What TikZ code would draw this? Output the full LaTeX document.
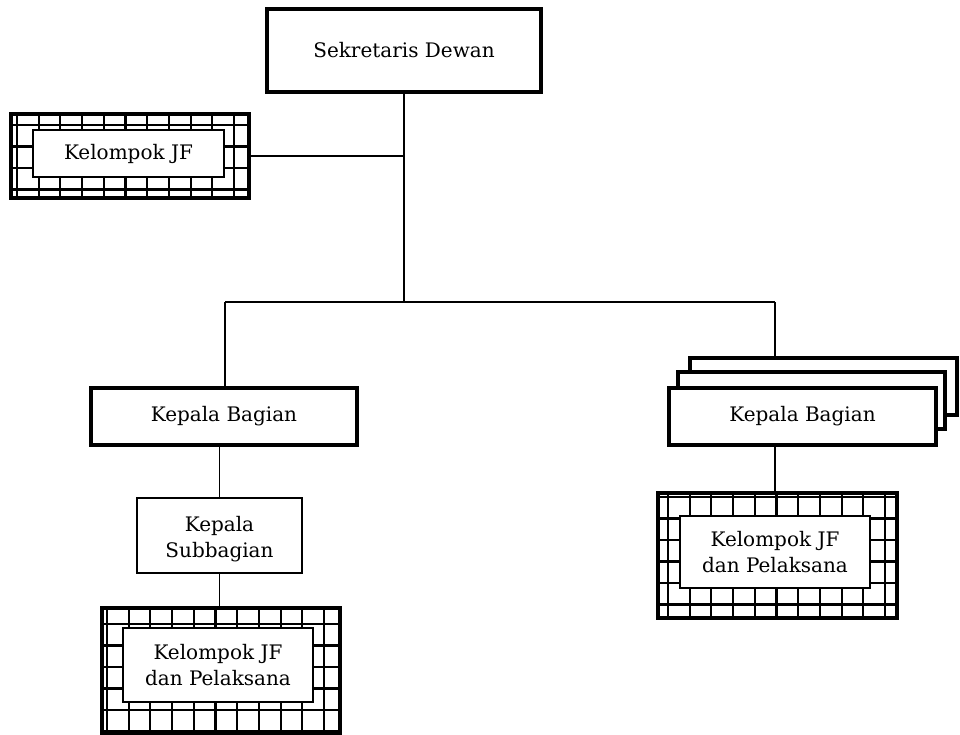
\documentclass[tikz,border=0pt]{standalone}
\usepackage{fontspec}
\setmainfont{DejaVu Serif}
\usetikzlibrary{calc}
\begin{document}
\begin{tikzpicture}[x=0.75pt,y=-0.75pt,
  every node/.style={font=\fontsize{15}{19.5}\selectfont},
  hb/.style={draw, line width=3.2pt, fill=white, inner sep=0pt, align=center},
  tb/.style={draw, line width=1.2pt, fill=white, inner sep=0pt, align=center},
  inbox/.style={draw, line width=0.8pt, fill=white, inner sep=0pt, align=center},
  conn/.style={line width=1.2pt},
  hatch/.style 2 args={path picture={
    \path (path picture bounding box.north west) coordinate (hnw);
    \foreach \i in {0,...,11} {\draw[line width=1.6pt] ($(hnw)+(#1+\i*21.7,-5)$) -- ++(0,140);}
    \foreach \j in {0,...,6} {\draw[line width=1.6pt] ($(hnw)+(-5,#2+\j*21.5)$) -- ++(260,0);}
  }}
]
\useasboundingbox (0,0) rectangle (960,735);

% boxes
\node[hb, minimum width=274*0.75pt, minimum height=83*0.75pt] (sek) at (404,50.5) {Sekretaris Dewan};

\node[hb, hatch={6}{11}, minimum width=238*0.75pt, minimum height=84*0.75pt] (kjfA) at (130,156) {};
\node[inbox, minimum width=191*0.75pt, minimum height=47*0.75pt] (kjfAin) at (128.5,153.5) {Kelompok JF};

\node[hb, minimum width=266*0.75pt, minimum height=57*0.75pt] (kbL) at (224,416.5) {Kepala Bagian};

\node[tb, minimum width=165*0.75pt, minimum height=75*0.75pt] (ksub) at (219.5,535.5) {};
\node[align=center, inner sep=0pt] (ksubtxt) at (219.5,539) {Kepala\\Subbagian};

\node[hb, hatch={5}{16}, minimum width=238*0.75pt, minimum height=125*0.75pt] (kjfB) at (221,670.5) {};
\node[inbox, minimum width=190*0.75pt, minimum height=74*0.75pt] (kjfBin) at (218,665) {Kelompok JF\\dan Pelaksana};

\node[hb, minimum width=267*0.75pt, minimum height=57*0.75pt] (kbR3) at (823.5,386.5) {};
\node[hb, minimum width=267*0.75pt, minimum height=57*0.75pt] (kbR2) at (811.5,400.5) {};
\node[hb, minimum width=267*0.75pt, minimum height=57*0.75pt] (kbR1) at (802.5,416.5) {Kepala Bagian};

\node[hb, hatch={10}{4}, minimum width=239*0.75pt, minimum height=125*0.75pt] (kjfC) at (777.5,555.5) {};
\node[inbox, minimum width=190*0.75pt, minimum height=72*0.75pt] (kjfCin) at (775,552) {Kelompok JF\\dan Pelaksana};

% connectors
\coordinate (bus) at (404,302);
\coordinate (busL) at (225,302);
\coordinate (busR) at (775,302);
\draw[conn] (sek.south) -- (bus);
\draw[conn] (kjfA.east) -- (kjfA.east -| bus);
\draw[conn] (busL) -- (busR);
\draw[conn] (busL) -- (busL |- kbL.north);
\draw[conn] (busR) -- (busR |- kbR3.north);
\draw[conn] (ksub.north |- kbL.south) -- (ksub.north);
\draw[conn] (ksub.south) -- (ksub.south |- kjfB.north);
\draw[conn] (busR |- kbR1.south) -- (busR |- kjfC.north);
\end{tikzpicture}
\end{document}
